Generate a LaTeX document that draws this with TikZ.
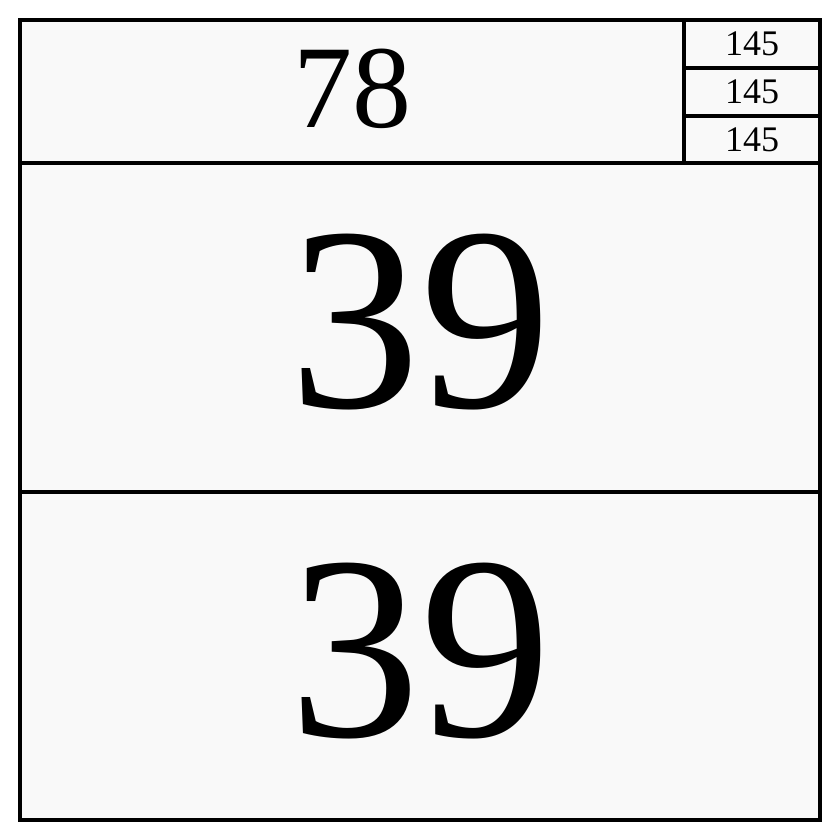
\documentclass[tikz,border=0pt]{standalone}
\usepackage{fontspec}
\setmainfont{Liberation Serif}
\begin{document}
\begin{tikzpicture}[x=0.5pt,y=-0.5pt,
  cell/.style={draw=black,line width=2pt,fill=cellgray},
  lbl/.style={inner sep=0pt,anchor=center}]
\definecolor{cellgray}{HTML}{F9F9F9}
\useasboundingbox (0,0) rectangle (840,840);
\fill[white] (0,0) rectangle (840,840);
\draw[cell] (20,20) rectangle (684,163);
\draw[cell] (684,20) rectangle (820,68);
\draw[cell] (684,68) rectangle (820,116);
\draw[cell] (684,116) rectangle (820,163);
\draw[cell] (20,163) rectangle (820,492);
\draw[cell] (20,492) rectangle (820,820);
\node[lbl,font=\fontsize{59}{60}\selectfont] (t78) at (352,89) {78};
\node[lbl,font=\fontsize{18}{20}\selectfont] (s1) at (752,44) {145};
\node[lbl,font=\fontsize{18}{20}\selectfont] (s2) at (752,92) {145};
\node[lbl,font=\fontsize{18}{20}\selectfont] (s3) at (752,140) {145};
\node[lbl,font=\fontsize{131}{132}\selectfont] (m39) at (420,322) {39};
\node[lbl,font=\fontsize{131}{132}\selectfont] (b39) at (420,651) {39};
\end{tikzpicture}
\end{document}
